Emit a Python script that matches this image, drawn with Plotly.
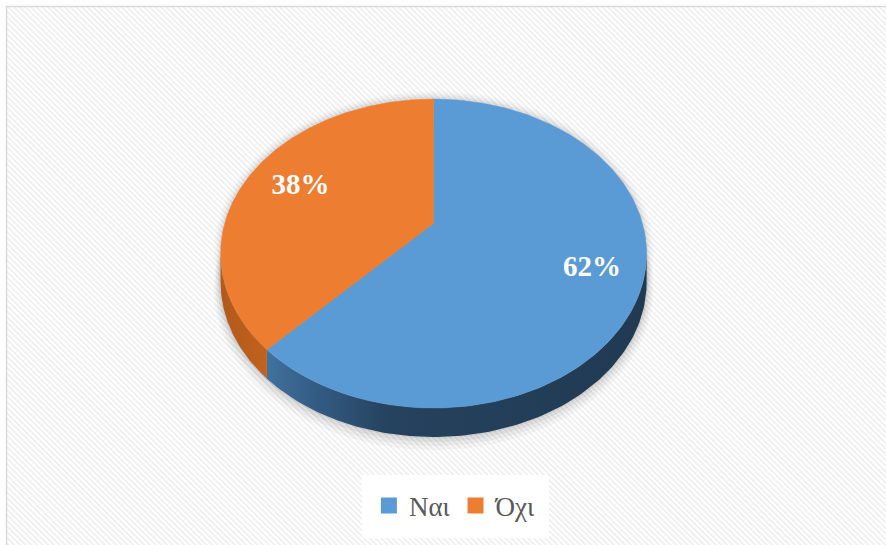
import base64
import numpy as np
import plotly.graph_objects as go

# ---- data ----
labels = ["Ναι", "Όχι"]
values = [62, 38]
top_colors = ["#5B9BD5", "#ED7D31"]
side_scales = [
    [[0, "#41719e"], [0.12, "#345d85"], [0.32, "#25425e"], [1, "#213a52"]],
    [[0, "#b3591b"], [1, "#c0621f"]],
]

W, H = 886, 545
# geometry (pixels)
cx, ym, rx, ry, q, depth = 433.6, 253.5, 213.0, 154.5, 0.195, 29.0
label_r = [0.77, 0.72]
A = rx * np.sqrt(1 - q * q)
B = ry * (1 - q * q)
cy0 = ym - ry * q


def proj(theta_deg, f=1.0):
    t = np.radians(theta_deg)
    X = f * np.sin(t)
    Z = -f * np.cos(t)
    d = 1 - q * Z
    return cx + A * X / d, cy0 + B * Z / d


fig = go.Figure()

# soft shadow under the pie
tt = np.linspace(0, 360, 241)
for k, (grow, dy, op) in enumerate([(7, 8, 0.03), (5, 6, 0.04), (3, 4, 0.05), (1.5, 2, 0.06)]):
    xs, ys = proj(tt)
    ex = cx + (xs - cx) * (1 + grow / rx)
    ey = ym + (ys - ym) * (1 + grow / ry) + depth + dy - 2
    fig.add_trace(go.Scatter(x=ex, y=ey, mode="lines", fill="toself",
                             line=dict(width=0), fillcolor=f"rgba(0,0,0,{op})",
                             hoverinfo="skip", showlegend=False))
    ey2 = ym + (ys - ym) * (1 + grow / ry) - 1
    fig.add_trace(go.Scatter(x=ex, y=ey2, mode="lines", fill="toself",
                             line=dict(width=0), fillcolor=f"rgba(0,0,0,{op*0.6})",
                             hoverinfo="skip", showlegend=False))

total = float(sum(values))
bounds = np.concatenate([[0], np.cumsum(values) / total * 360.0])
vis_a = np.degrees(np.arccos(-q))          # right extreme
vis_b = 360 - vis_a                         # left extreme

# side faces
for i in range(len(values)):
    a0, a1 = max(bounds[i], vis_a), min(bounds[i + 1], vis_b)
    if a1 <= a0:
        continue
    th = np.linspace(a0, a1, 120)
    xs, ys = proj(th)
    px = np.concatenate([xs, xs[::-1]])
    py = np.concatenate([ys, ys[::-1] + depth])
    fig.add_trace(go.Scatter(x=px, y=py, mode="lines", fill="toself",
                             line=dict(width=0),
                             fillgradient=dict(type="horizontal", colorscale=side_scales[i]),
                             hoverinfo="skip", showlegend=False))

# top faces
for i in range(len(values)):
    th = np.linspace(bounds[i], bounds[i + 1], 200)
    xs, ys = proj(th)
    px = np.concatenate([[cx], xs, [cx]])
    py = np.concatenate([[cy0], ys, [cy0]])
    fig.add_trace(go.Scatter(x=px, y=py, mode="lines", fill="toself",
                             line=dict(width=0.5, color=top_colors[i]), fillcolor=top_colors[i],
                             hoverinfo="skip", showlegend=False))

# data labels
for i in range(len(values)):
    mid = (bounds[i] + bounds[i + 1]) / 2
    lx, ly = proj(mid, label_r[i])
    fig.add_trace(go.Scatter(x=[lx], y=[ly + 1], mode="text",
                             text=[f"{values[i] / total * 100:.0f}%"],
                             textfont=dict(family="Liberation Serif", size=29, color="white", weight="bold"),
                             hoverinfo="skip", showlegend=False))

# legend entries
for i in range(len(values)):
    fig.add_trace(go.Scatter(x=[None], y=[None], mode="markers", name=labels[i],
                             marker=dict(symbol="square", size=16, color=top_colors[i])))

svg = (f"<svg xmlns='http://www.w3.org/2000/svg' width='{W}' height='{H}'>"
       "<defs><pattern id='h' width='4' height='4' patternUnits='userSpaceOnUse' patternTransform='rotate(-45)'>"
       "<rect width='4' height='4' fill='#ffffff'/><rect width='1.6' height='4' fill='#ededed'/></pattern></defs>"
       f"<rect x='6' y='6' width='{W}' height='{H}' fill='url(#h)'/></svg>")
src = "data:image/svg+xml;base64," + base64.b64encode(svg.encode()).decode()

fig.update_layout(
    width=W, height=H,
    margin=dict(l=0, r=0, t=0, b=0),
    paper_bgcolor="white", plot_bgcolor="rgba(0,0,0,0)",
    xaxis=dict(range=[0, W], visible=False, fixedrange=True),
    yaxis=dict(range=[H, 0], visible=False, fixedrange=True),
    images=[dict(source=src, xref="paper", yref="paper", x=0, y=1, sizex=1, sizey=1,
                 sizing="stretch", layer="below")],
    shapes=[dict(type="rect", xref="x", yref="y", x0=6.5, y0=6.5, x1=W + 10, y1=H + 10,
                 line=dict(color="#d9d9d9", width=1.5), fillcolor="rgba(0,0,0,0)")],
    showlegend=True,
    legend=dict(orientation="h", x=0.514, xanchor="center", y=1 - 506 / H, yanchor="middle",
                bgcolor="white", bordercolor="white", borderwidth=7,
                font=dict(family="Liberation Serif", size=27, color="#595959"),
                itemsizing="trace"),
)

fig.write_html("out.html", config={"displayModeBar": False},
               post_script="document.body.style.margin='0';document.body.style.overflow='hidden';")
